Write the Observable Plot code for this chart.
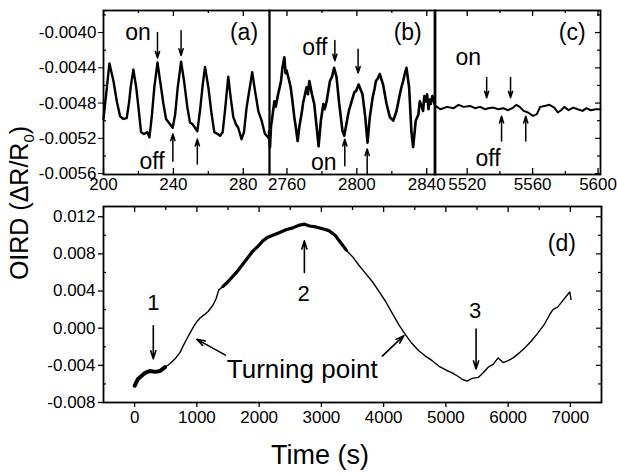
<!DOCTYPE html>
<html><head><meta charset="utf-8">
<script src="https://cdn.jsdelivr.net/npm/d3@7"></script>
<script src="https://cdn.jsdelivr.net/npm/@observablehq/plot@0.6"></script>
<style>
body{margin:0;background:#fff;}
#root{position:relative;width:617px;height:474px;overflow:hidden;font-family:"Liberation Sans",Arial,Helvetica,sans-serif;background:#fff;}
#root svg{position:absolute;overflow:visible;}
.lbl{position:absolute;color:#000;white-space:nowrap;line-height:1;}
</style></head><body><div id="root"></div>
<script>
// ---------- data ----------
// panel (a)
const aT = [200.0,203.4,205.7,207.6,209.5,211.4,213.3,214.7,215.6,217.1,218.7,220.0,221.5,223.2,225.1,226.3,227.6,229.1,230.9,232.4,234.3,235.8,238.1,239.6,241.0,242.5,244.4,246.1,248.0,249.5,251.0,252.4,253.7,255.2,256.8,258.1,260.0,261.9,263.4,265.3,266.7,268.2,269.5,271.4,272.8,274.3,275.8,277.1,279.0,280.4,281.9,285.1,286.7,288.6,290.5,292.4,294.3,295.0];
const aV = [-0.00498,-0.00435,-0.00455,-0.00478,-0.00495,-0.00498,-0.00497,-0.00478,-0.00461,-0.00442,-0.00462,-0.00485,-0.00513,-0.00515,-0.00513,-0.00519,-0.00496,-0.00462,-0.00434,-0.00455,-0.00481,-0.00498,-0.00504,-0.00508,-0.00493,-0.00462,-0.00433,-0.00455,-0.00485,-0.00502,-0.00504,-0.00508,-0.00512,-0.00489,-0.00459,-0.00439,-0.00462,-0.00493,-0.00513,-0.00515,-0.00517,-0.00513,-0.00489,-0.00450,-0.00474,-0.00496,-0.00504,-0.00508,-0.00521,-0.00513,-0.00485,-0.00445,-0.00466,-0.00489,-0.00500,-0.00515,-0.00519,-0.00522];
// panel (b)
const bT = [2749.7,2750.3,2750.9,2751.4,2752.1,2752.8,2753.6,2754.7,2755.5,2756.6,2757.4,2758.5,2759.2,2759.8,2761.3,2762.1,2762.9,2764.2,2765.1,2766.1,2767.0,2768.6,2769.2,2769.9,2771.2,2772.0,2772.8,2774.3,2775.6,2776.6,2778.1,2779.4,2780.8,2781.6,2782.7,2784.6,2785.8,2787.0,2788.4,2789.9,2791.8,2792.8,2794.7,2795.5,2796.6,2798.5,2799.6,2801.0,2803.2,2804.8,2806.1,2807.4,2809.0,2810.1,2810.9,2812.0,2813.1,2815.0,2817.0,2818.9,2820.8,2822.7,2824.6,2825.5,2826.5,2827.5,2828.4,2829.9,2831.2,2832.2,2833.7,2835.2,2836.0,2836.6,2837.9,2838.6,2839.4,2840.2,2841.0,2841.6,2842.3,2843.2,2844.5];
const bV = [-0.00512,-0.00530,-0.00505,-0.00500,-0.00488,-0.00478,-0.00484,-0.00472,-0.00465,-0.00455,-0.00440,-0.00428,-0.00446,-0.00443,-0.00455,-0.00462,-0.00474,-0.00496,-0.00508,-0.00523,-0.00508,-0.00489,-0.00480,-0.00474,-0.00462,-0.00470,-0.00455,-0.00470,-0.00481,-0.00500,-0.00529,-0.00500,-0.00481,-0.00487,-0.00478,-0.00455,-0.00450,-0.00440,-0.00451,-0.00481,-0.00512,-0.00517,-0.00496,-0.00488,-0.00481,-0.00468,-0.00466,-0.00459,-0.00470,-0.00496,-0.00525,-0.00496,-0.00474,-0.00464,-0.00455,-0.00452,-0.00447,-0.00459,-0.00481,-0.00496,-0.00500,-0.00489,-0.00470,-0.00462,-0.00455,-0.00446,-0.00440,-0.00462,-0.00512,-0.00530,-0.00500,-0.00493,-0.00478,-0.00481,-0.00489,-0.00472,-0.00478,-0.00470,-0.00487,-0.00476,-0.00481,-0.00472,-0.00481];
// panel (c)
const cT = [5500.6,5503.6,5507.7,5511.7,5514.7,5517.8,5521.8,5524.8,5527.9,5530.9,5532.9,5536.0,5539.0,5542.0,5545.0,5548.1,5550.1,5552.1,5554.5,5557.2,5560.2,5562.6,5564.6,5567.3,5570.3,5573.3,5575.4,5577.4,5579.4,5582.0,5584.8,5587.5,5590.5,5592.9,5595.6,5598.6,5601.5];
const cV = [-0.004832,-0.004870,-0.004843,-0.004858,-0.004820,-0.004843,-0.004832,-0.004858,-0.004843,-0.004870,-0.004858,-0.004851,-0.004870,-0.004858,-0.004881,-0.004851,-0.004820,-0.004843,-0.004889,-0.004907,-0.004945,-0.004926,-0.004843,-0.004832,-0.004820,-0.004851,-0.004907,-0.004881,-0.004843,-0.004881,-0.004851,-0.004870,-0.004889,-0.004858,-0.004881,-0.004870,-0.004870];
// panel (d)
const dT = [0,50,100,170,250,330,410,490,570,650,730,780,850,900,950,1000,1050,1110,1180,1260,1310,1350,1420,1500,1580,1660,1740,1820,1900,1980,2060,2140,2220,2330,2430,2540,2650,2730,2810,2910,3020,3120,3220,3300,3400,3500,3600,3710,3820,3930,4030,4140,4250,4350,4450,4560,4670,4780,4890,5000,5100,5200,5260,5340,5420,5520,5600,5680,5760,5840,5920,6000,6080,6190,6270,6370,6480,6590,6670,6720,6800,6880,6990,7010];
const dV = [-0.0062,-0.0055,-0.0052,-0.0048,-0.0046,-0.0047,-0.0046,-0.0042,-0.0038,-0.0033,-0.0026,-0.0019,-0.0010,-0.0004,0.0002,0.0007,0.0011,0.0014,0.0018,0.0025,0.0032,0.0041,0.0045,0.0050,0.0056,0.0062,0.0069,0.0076,0.0083,0.0088,0.0094,0.0098,0.0100,0.0103,0.0106,0.0108,0.0111,0.0112,0.0110,0.0109,0.0107,0.0105,0.0100,0.0093,0.0084,0.0077,0.0068,0.0059,0.0050,0.0039,0.0029,0.0016,0.0003,-0.0007,-0.0016,-0.0024,-0.0030,-0.0035,-0.0041,-0.0045,-0.0048,-0.0052,-0.0055,-0.0057,-0.0054,-0.0053,-0.0048,-0.0042,-0.0039,-0.0032,-0.0037,-0.0035,-0.0032,-0.0026,-0.0021,-0.0014,-0.0005,0.0005,0.0015,0.0020,0.0023,0.0030,0.0039,0.0031];

// ticks
const topY = [-0.00561, -0.00375];
const topYTicks = [-0.0056,-0.0052,-0.0048,-0.0044,-0.0040];
const topYMinor = [-0.0054,-0.0050,-0.0046,-0.0042,-0.0038];
const aTicks = [200,240,280], aMinor = [220,260];
const bTicks = [2760,2800,2840], bMinor = [2780,2820];
const cTicks = [5520,5560,5600], cMinor = [5540,5580];
const dXTicks = [0,1000,2000,3000,4000,5000,6000,7000];
const dXMinor = [-500,500,1500,2500,3500,4500,5500,6500,7500];
const dYTicks = [-0.008,-0.004,0.000,0.004,0.008,0.012];
const dYMinor = [-0.006,-0.002,0.002,0.006,0.010];

// annotations
const aLabels = [{x:219.8,y:-0.0040,t:"on"},{x:227.8,y:-0.005467,t:"off"},{x:280.4,y:-0.0040,t:"(a)"}];
const aArrows = [{x:230.9,y1:-0.00400,y2:-0.00429},{x:244.4,y1:-0.00398,y2:-0.00426},{x:239.7,y1:-0.00546,y2:-0.00515},{x:253.7,y1:-0.00549,y2:-0.00521}];
const bLabels = [{x:2776,y:-0.004174,t:"off"},{x:2781.1,y:-0.005479,t:"on"},{x:2829.1,y:-0.0040,t:"(b)"}];
const bArrows = [{x:2787.4,y1:-0.00409,y2:-0.00432},{x:2800.7,y1:-0.00419,y2:-0.00446},{x:2793.1,y1:-0.00551,y2:-0.00521},{x:2805.9,y1:-0.00561,y2:-0.00532}];
const cLabels = [{x:5520.6,y:-0.004287,t:"on"},{x:5532.7,y:-0.005433,t:"off"},{x:5584.2,y:-0.0040,t:"(c)"}];
const cArrows = [{x:5531.9,y1:-0.00451,y2:-0.00474},{x:5546.5,y1:-0.00451,y2:-0.00474},{x:5541,y1:-0.00523,y2:-0.00495},{x:5555.8,y1:-0.00523,y2:-0.00495}];
const dLabels = [{x:300,y:0.0027,t:"1",s:22},{x:2713,y:0.0037,t:"2",s:22},{x:5470,y:0.0019,t:"3",s:22},{x:6864,y:0.0091,t:"(d)",s:23}];
const dArrows = [{x1:300,y1:0.00026,x2:300,y2:-0.0033},{x1:2727,y1:0.0060,x2:2727,y2:0.0094},{x1:5485,y1:-0.0001,x2:5485,y2:-0.0044},{x1:1460,y1:-0.0029,x2:1000,y2:-0.0012},{x1:3978,y1:-0.0030,x2:4325,y2:-0.0008}];
const tpLabel = [{x:1481,y:-0.0045,t:"Turning point"}];

// ---------- drawing ----------
const FONT = '"Liberation Sans", Arial, Helvetica, sans-serif';
const root = document.getElementById("root");
const zip = (T, V) => T.map((t, i) => ({t, v: V[i]}));
function place(svg, left, top) { svg.style.left = left + "px"; svg.style.top = top + "px"; root.appendChild(svg); }

const TOP_H = 200, TOP_MT = 10, TOP_MB = 26, TOP_PH = TOP_H - TOP_MT - TOP_MB;

function topPanel({T, V, domain, ticks, minor, width, mL, mR, yAxis, rightTicks, labels, arrows, sw}) {
  const pw = width - mL - mR;
  const marks = [
    Plot.line(zip(T, V), {x: "t", y: "v", stroke: "black", strokeWidth: sw, strokeLinejoin: "round"}),
    Plot.axisX(ticks, {tickSize: 0, tickPadding: 3, label: null, tickFormat: d => String(d), fontSize: 17}),
    Plot.tickX(ticks, {x: d => d, insetTop: TOP_PH - 6, strokeWidth: 1.3}),
    Plot.tickX(minor, {x: d => d, insetTop: TOP_PH - 3, strokeWidth: 1.3}),
    Plot.tickX(ticks, {x: d => d, insetBottom: TOP_PH - 6, strokeWidth: 1.3}),
    Plot.tickX(minor, {x: d => d, insetBottom: TOP_PH - 3, strokeWidth: 1.3}),
    Plot.text(labels, {x: "x", y: "y", text: "t", fontSize: 23, textAnchor: "middle", fill: "black"}),
    Plot.arrow(arrows, {x1: "x", x2: "x", y1: "y1", y2: "y2", stroke: "black", strokeWidth: 1.5, headLength: 7, headAngle: 35}),
    Plot.frame({stroke: "black", strokeWidth: 1.8})
  ];
  if (yAxis) {
    marks.push(Plot.axisY(topYTicks, {tickSize: 5, tickPadding: 2, label: null, tickFormat: d => d.toFixed(4), fontSize: 17}));
    marks.push(Plot.tickY(topYMinor, {y: d => d, insetRight: pw - 3, strokeWidth: 1.2}));
  }
  if (rightTicks) {
    marks.push(Plot.tickY(topYTicks, {y: d => d, insetLeft: pw - 5, strokeWidth: 1.2}));
    marks.push(Plot.tickY(topYMinor, {y: d => d, insetLeft: pw - 3, strokeWidth: 1.2}));
  }
  return Plot.plot({
    width, height: TOP_H, marginLeft: mL, marginRight: mR, marginTop: TOP_MT, marginBottom: TOP_MB,
    style: {fontFamily: FONT, fontSize: "17px", color: "black", background: "transparent", overflow: "visible"},
    x: {domain, axis: null}, y: {domain: topY, axis: null},
    marks
  });
}

place(topPanel({T: aT, V: aV, domain: [200, 295], ticks: aTicks, minor: aMinor, width: 270, mL: 103, mR: 1, yAxis: true, labels: aLabels, arrows: aArrows, sw: 2.4}), 0, 0);
place(topPanel({T: bT, V: bV, domain: [2750, 2845], ticks: bTicks, minor: bMinor, width: 168, mL: 1, mR: 1, labels: bLabels, arrows: bArrows, sw: 2.6}), 268, 0);
place(topPanel({T: cT, V: cV, domain: [5500, 5601.5], ticks: cTicks, minor: cMinor, width: 184, mL: 1, mR: 17, rightTicks: true, labels: cLabels, arrows: cArrows, sw: 2}), 433, 0);

// panel (d)
const D_H = 240, D_MT = 10, D_MB = 34, D_PH = D_H - D_MT - D_MB, D_W = 617, D_ML = 103, D_MR = 16, D_PW = D_W - D_ML - D_MR;
const dData = zip(dT, dV);
const dPlot = Plot.plot({
  width: D_W, height: D_H, marginLeft: D_ML, marginRight: D_MR, marginTop: D_MT, marginBottom: D_MB,
  style: {fontFamily: FONT, fontSize: "17px", color: "black", background: "transparent", overflow: "visible"},
  x: {domain: [-500, 7500], axis: null}, y: {domain: [-0.008, 0.0131], axis: null},
  marks: [
    Plot.line(dData, {x: "t", y: "v", stroke: "black", strokeWidth: 1.4, strokeLinejoin: "round"}),
    Plot.line(dData.filter(d => d.t <= 490), {x: "t", y: "v", stroke: "black", strokeWidth: 4}),
    Plot.line(dData.filter(d => d.t >= 1420 && d.t <= 3400), {x: "t", y: "v", stroke: "black", strokeWidth: 3.2}),
    Plot.axisX(dXTicks, {tickSize: 5, tickPadding: 3, label: null, tickFormat: d => String(d), fontSize: 17, strokeWidth: 1.3}),
    Plot.tickX(dXTicks, {x: d => d, insetBottom: D_PH - 6, strokeWidth: 1.3}),
    Plot.tickX(dXMinor, {x: d => d, insetBottom: D_PH - 4, strokeWidth: 1.3}),
    Plot.axisY(dYTicks, {tickSize: 5, tickPadding: 3, label: null, tickFormat: d => d.toFixed(3), fontSize: 17, strokeWidth: 1.3}),
    Plot.tickY(dYMinor, {y: d => d, insetRight: D_PW - 3, strokeWidth: 1.2}),
    Plot.tickY(dYTicks, {y: d => d, insetLeft: D_PW - 5, strokeWidth: 1.2}),
    Plot.tickY(dYMinor, {y: d => d, insetLeft: D_PW - 3, strokeWidth: 1.2}),
    Plot.text(dLabels, {x: "x", y: "y", text: "t", fontSize: d => d.s, textAnchor: "middle", fill: "black"}),
    Plot.text(tpLabel, {x: "x", y: "y", text: "t", fontSize: 26, textAnchor: "start", fill: "black"}),
    Plot.arrow(dArrows, {x1: "x1", y1: "y1", x2: "x2", y2: "y2", stroke: "black", strokeWidth: 1.6, headLength: 8, headAngle: 35}),
    Plot.frame({stroke: "black", strokeWidth: 1.8})
  ]
});
place(dPlot, 0, 196);

// axis titles
const xt = document.createElement("div");
xt.className = "lbl"; xt.textContent = "Time (s)";
xt.style.cssText += "left:320px;top:455px;font-size:27px;transform:translate(-50%,-50%);";
root.appendChild(xt);
const yt = document.createElement("div");
yt.className = "lbl"; yt.innerHTML = "OIRD (ΔR/R<sub style='font-size:0.6em'>0</sub>)";
yt.style.cssText += "left:21px;top:203px;font-size:25px;transform:translate(-50%,-50%) rotate(-90deg);";
root.appendChild(yt);
</script></body></html>
